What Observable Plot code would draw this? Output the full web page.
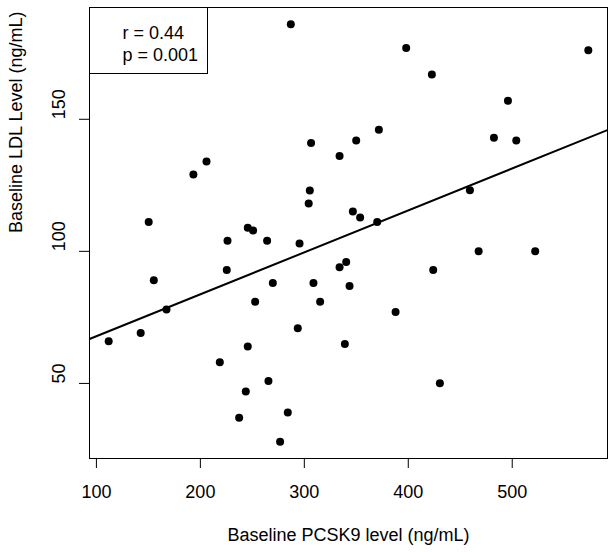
<!DOCTYPE html>
<html><head><meta charset="utf-8">
<script src="https://cdn.jsdelivr.net/npm/d3@7"></script>
<script src="https://cdn.jsdelivr.net/npm/@observablehq/plot@0.6"></script>
<style>body{margin:0;background:#fff}</style>
</head><body><div id="chart"></div>
<script>
const pcsk9 = [287.0,193.3,205.9,150.3,245.6,250.7,306.5,305.3,304.2,398.0,573.2,422.7,495.9,371.7,349.9,333.9,482.4,503.9,459.3,346.7,353.7,370.1,226.1,264.2,295.4,225.4,155.2,269.7,308.8,252.7,167.4,142.6,111.8,293.7,245.6,218.7,265.5,243.7,237.3,284.1,276.7,340.3,333.9,343.5,315.2,387.8,339.0,424.0,467.7,522.1,430.4];
const ldl = [186.0,129.1,134.0,111.1,108.9,107.9,141.0,123.0,118.1,177.0,176.1,167.0,157.0,146.0,142.0,136.1,143.0,142.0,123.1,115.1,112.8,111.1,104.0,104.0,103.0,92.9,89.1,88.0,88.0,80.9,78.0,69.1,66.0,70.9,64.0,58.0,50.9,46.9,37.0,39.0,27.9,96.0,94.0,86.9,80.9,77.0,64.9,92.9,100.0,100.0,50.1];
const xTicks = [100, 200, 300, 400, 500];
const yTicks = [50, 100, 150];
const statLines = ["r = 0.44", "p = 0.001"];
const xTitle = "Baseline PCSK9 level (ng/mL)";
const yTitle = "Baseline LDL Level (ng/mL)";

const data = pcsk9.map((x, i) => ({x, y: ldl[i]}));
function rDomain(v) { const [a, b] = d3.extent(v); const p = (b - a) * 0.04; return [a - p, b + p]; }
const xDom = rDomain(pcsk9), yDom = rDomain(ldl);
const mx = d3.mean(pcsk9), my = d3.mean(ldl);
const slope = d3.sum(data, d => (d.x - mx) * (d.y - my)) / d3.sum(data, d => (d.x - mx) ** 2);
const intercept = my - slope * mx;
const fit = xDom.map(x => ({x, y: intercept + slope * x}));

const font = "'Liberation Sans', Arial, Helvetica, sans-serif";
const plot = Plot.plot({
  width: 614, height: 552,
  marginLeft: 89, marginRight: 7, marginTop: 7, marginBottom: 94,
  style: {fontFamily: font, fontSize: "18px", background: "#fff", color: "#000"},
  x: {domain: xDom},
  y: {domain: yDom},
  marks: [
    Plot.frame({stroke: "#000"}),
    Plot.axisX({ticks: xTicks, tickSize: 10, tickFormat: () => "", label: null}),
    Plot.axisY({ticks: yTicks, tickSize: 10, tickFormat: () => "", label: null}),
    Plot.text(xTicks, {x: d => d, text: d => String(d), frameAnchor: "bottom", dy: 33.7, lineAnchor: "middle", fill: "#000"}),
    Plot.text(yTicks, {y: d => d, text: d => String(d), frameAnchor: "left", dx: -30.5, rotate: -90, lineAnchor: "middle", fill: "#000"}),
    Plot.text([xTitle], {text: d => d, frameAnchor: "bottom", dy: 77, lineAnchor: "middle", fill: "#000"}),
    Plot.text([yTitle], {text: d => d, frameAnchor: "left", dx: -73, rotate: -90, lineAnchor: "middle", fill: "#000"}),
    Plot.line(fit, {x: "x", y: "y", stroke: "#000", strokeWidth: 2, clip: true}),
    Plot.dot(data, {x: "x", y: "y", r: 4, fill: "#000", stroke: "none"}),
    Plot.text([statLines.join("\n")], {text: d => d, frameAnchor: "top-left", dx: 33, dy: 16, textAnchor: "start", lineAnchor: "top", lineHeight: 1.22, fill: "#000"})
  ]
});
document.getElementById("chart").appendChild(plot);
// legend box around the stats text (R legend style)
const t = Array.from(plot.querySelectorAll("text")).find(e => e.textContent.startsWith("r = "));
if (t) {
  const sr = plot.getBoundingClientRect();
  const bb = t.getBoundingClientRect();
  const right = bb.right - sr.left + 9;
  const bottom = bb.bottom - sr.top + 8;
  d3.select(plot).append("rect")
    .attr("x", 89.5).attr("y", 7.5)
    .attr("width", Math.round(right) - 89.5 + 0.5)
    .attr("height", Math.round(bottom) - 7.5 + 0.5)
    .attr("fill", "none").attr("stroke", "#000").attr("stroke-width", 1);
}
</script>
</body></html>
